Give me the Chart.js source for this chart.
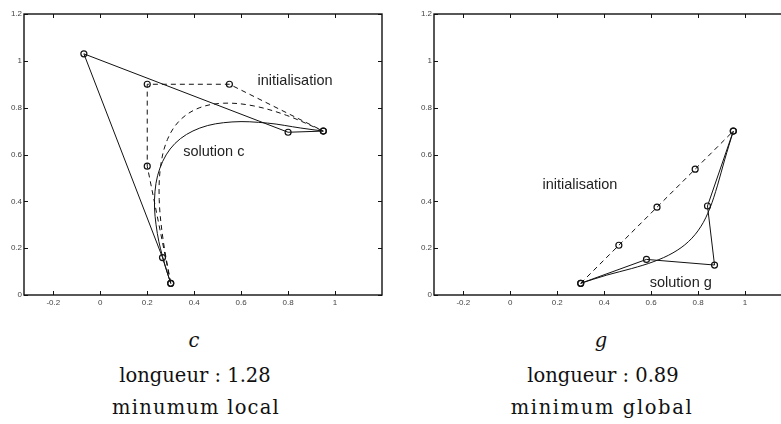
<!DOCTYPE html>
<html>
<head>
<meta charset="utf-8">
<script src="https://cdn.jsdelivr.net/npm/chart.js@4/dist/chart.umd.min.js"></script>
<style>
  html, body { margin: 0; padding: 0; background: #fff; }
  body { width: 781px; height: 424px; overflow: hidden; position: relative; }
  .box { position: absolute; top: 0; width: 390px; height: 310px; }
  .cap { position: absolute; width: 300px; text-align: center; font-family: "DejaVu Serif", serif; font-size: 19.5px; color: #111; line-height: 1; white-space: nowrap; }
</style>
</head>
<body>
<div class="box" style="left:0px"><canvas id="chartC" width="390" height="310"></canvas></div>
<div class="box" style="left:410px"><canvas id="chartG" width="390" height="310"></canvas></div>

<div class="cap" style="left:44px; top:331px; font-style:italic">c</div>
<div class="cap" style="left:45px; top:366px">longueur : 1.28</div>
<div class="cap" style="left:46px; top:398px; letter-spacing:1.2px">minumum local</div>
<div class="cap" style="left:451px; top:331px; font-style:italic">g</div>
<div class="cap" style="left:453px; top:366px">longueur : 0.89</div>
<div class="cap" style="left:452px; top:398px; letter-spacing:1.6px">minimum global</div>

<script>
// axis ticks
const xTicks = [-0.2, 0, 0.2, 0.4, 0.6, 0.8, 1];
const yTicks = [0, 0.2, 0.4, 0.6, 0.8, 1, 1.2];

// case c : control polygons and curves
const cPoly = [[0.3, 0.05], [0.265, 0.16], [-0.07, 1.03], [0.8, 0.695], [0.95, 0.70]];
const cCurve = [[0.3, 0.05], [0.274, 0.132], [0.243, 0.263], [0.231, 0.409], [0.254, 0.542],
  [0.318, 0.647], [0.424, 0.713], [0.561, 0.739], [0.713, 0.734], [0.854, 0.713], [0.95, 0.70]];
const cInitPoly = [[0.3, 0.05], [0.2, 0.55], [0.2, 0.9], [0.55, 0.9], [0.95, 0.70]];
const cInitCurve = [[0.3, 0.05], [0.267, 0.240], [0.251, 0.408], [0.257, 0.550], [0.286, 0.664],
  [0.340, 0.747], [0.421, 0.799], [0.525, 0.819], [0.651, 0.808], [0.794, 0.767], [0.95, 0.70]];

// case g
const gPoly = [[0.3, 0.05], [0.58, 0.152], [0.87, 0.128], [0.84, 0.38], [0.95, 0.70]];
const gCurve = [[0.3, 0.05], [0.411, 0.085], [0.517, 0.113], [0.612, 0.143], [0.693, 0.180],
  [0.759, 0.228], [0.811, 0.291], [0.850, 0.370], [0.882, 0.466], [0.913, 0.577], [0.95, 0.70]];
const gInitPoly = [[0.3, 0.05], [0.4625, 0.2125], [0.625, 0.375], [0.7875, 0.5375], [0.95, 0.70]];

const toXY = arr => arr.map(p => ({ x: p[0], y: p[1] }));

const ink = '#111';

function curveSet(pts, dashed) {
  return {
    data: toXY(pts), showLine: true, borderColor: ink, borderWidth: 1,
    borderDash: dashed ? [5, 4] : [], pointRadius: 0, tension: 0.35, fill: false
  };
}
function polySet(pts, dashed) {
  return {
    data: toXY(pts), showLine: true, borderColor: ink, borderWidth: 1,
    borderDash: dashed ? [5, 4] : [], pointRadius: 3, pointBorderWidth: 1.2,
    pointBackgroundColor: 'rgba(0,0,0,0)', pointBorderColor: ink, tension: 0, fill: false
  };
}

// frame with inward ticks and text labels
const framePlugin = {
  id: 'frame',
  afterDraw(chart, args, opts) {
    const ctx = chart.ctx, a = chart.chartArea;
    const xs = chart.scales.x, ys = chart.scales.y;
    ctx.save();
    ctx.strokeStyle = ink;
    ctx.lineWidth = 1;
    ctx.beginPath();
    xTicks.forEach(v => {
      const px = Math.round(xs.getPixelForValue(v)) + 0.5;
      ctx.moveTo(px, a.bottom); ctx.lineTo(px, a.bottom - 4);
      ctx.moveTo(px, a.top); ctx.lineTo(px, a.top + 4);
    });
    yTicks.forEach(v => {
      const py = Math.round(ys.getPixelForValue(v)) + 0.5;
      ctx.moveTo(a.left, py); ctx.lineTo(a.left + 4, py);
      ctx.moveTo(a.right, py); ctx.lineTo(a.right - 4, py);
    });
    ctx.stroke();
    ctx.lineWidth = 1.4;
    ctx.strokeRect(a.left, a.top, a.right - a.left, a.bottom - a.top);
    ctx.fillStyle = '#222';
    ctx.font = '14.5px "Liberation Sans", Arial, sans-serif';
    ctx.textBaseline = 'middle';
    (opts.labels || []).forEach(l => {
      ctx.fillText(l.text, xs.getPixelForValue(l.x), ys.getPixelForValue(l.y));
    });
    ctx.restore();
  }
};

function makeChart(id, datasets, labels) {
  return new Chart(document.getElementById(id), {
    type: 'scatter',
    data: { datasets: datasets },
    options: {
      responsive: false,
      animation: false,
      layout: { padding: { top: 14, right: 8, left: 0, bottom: 0 } },
      plugins: { legend: { display: false }, tooltip: { enabled: false }, frame: { labels: labels } },
      scales: {
        x: {
          min: -0.325, max: 1.2,
          afterBuildTicks: s => { s.ticks = xTicks.map(v => ({ value: v })); },
          afterFit: s => { s.height = 15; },
          grid: { display: false, drawTicks: false },
          border: { display: false },
          ticks: { padding: 3, color: '#444', font: { family: 'Liberation Sans', size: 8 }, maxRotation: 0,
            callback: v => String(Math.round(v * 10) / 10) }
        },
        y: {
          min: 0, max: 1.2,
          afterBuildTicks: s => { s.ticks = yTicks.map(v => ({ value: v })); },
          afterFit: s => { s.width = 24; },
          grid: { display: false, drawTicks: false },
          border: { display: false },
          ticks: { padding: 2, color: '#444', font: { family: 'Liberation Sans', size: 8 },
            callback: v => String(Math.round(v * 10) / 10) }
        }
      }
    },
    plugins: [framePlugin]
  });
}

makeChart('chartC', [
  curveSet(cCurve, false),
  curveSet(cInitCurve, true),
  polySet(cPoly, false),
  polySet(cInitPoly, true)
], [
  { text: 'initialisation', x: 0.67, y: 0.914 },
  { text: 'solution c', x: 0.353, y: 0.609 }
]);

makeChart('chartG', [
  curveSet(gCurve, false),
  polySet(gPoly, false),
  polySet(gInitPoly, true)
], [
  { text: 'initialisation', x: 0.137, y: 0.468 },
  { text: 'solution g', x: 0.594, y: 0.051 }
]);
</script>
</body>
</html>
